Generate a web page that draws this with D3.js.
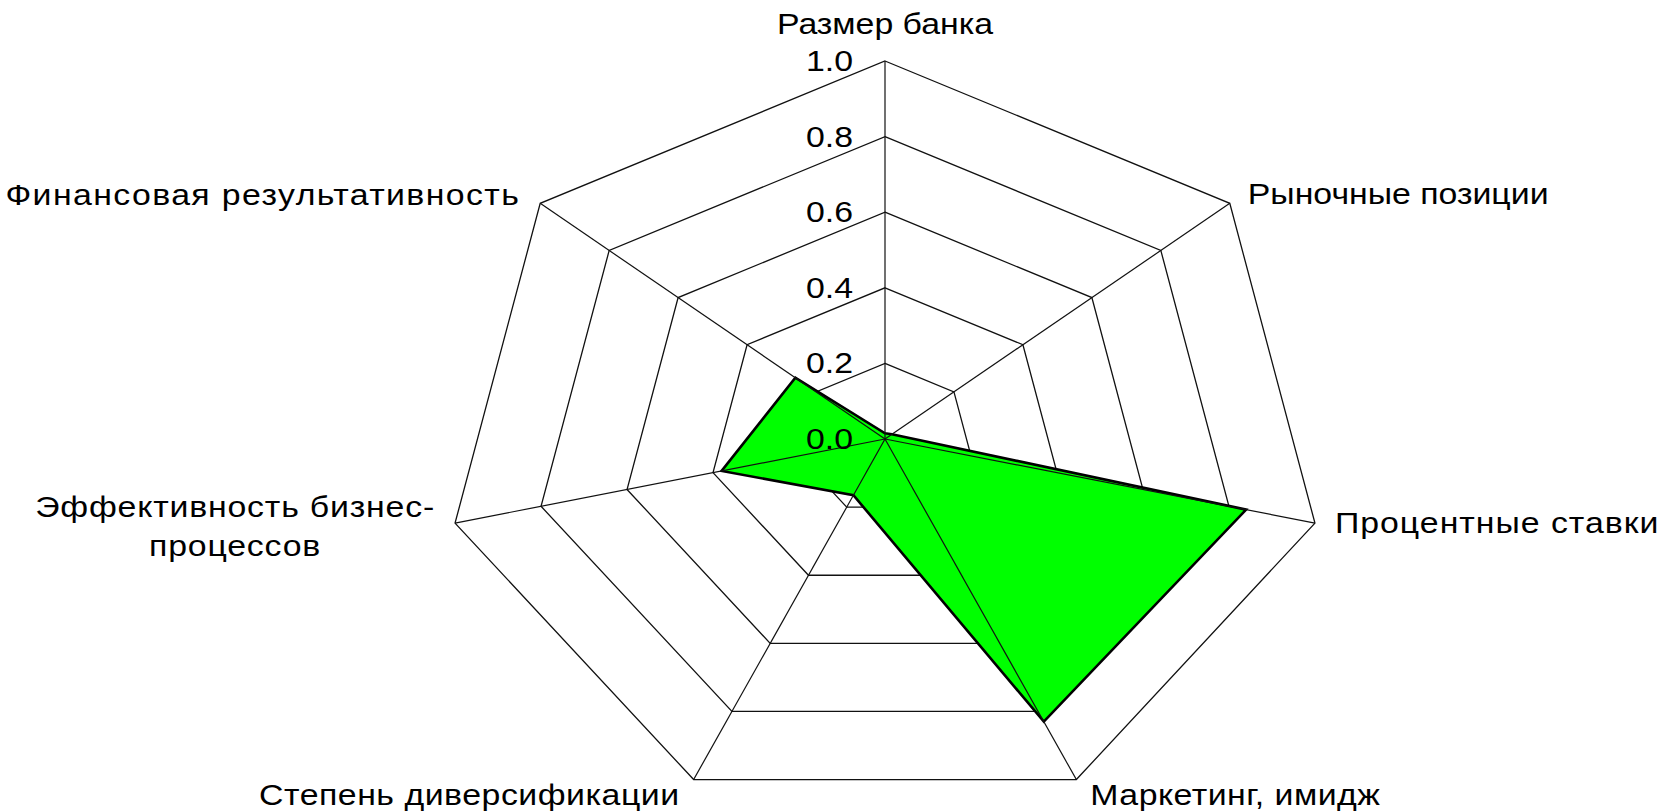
<!DOCTYPE html>
<html>
<head>
<meta charset="utf-8">
<script src="https://cdn.jsdelivr.net/npm/d3@7"></script>
<style>
  html, body { margin: 0; padding: 0; background: #fff; }
  svg { display: block; }
  text { font-family: "Liberation Sans", Arial, sans-serif; fill: #000; }
</style>
</head>
<body>
<svg id="chart" width="1672" height="811"></svg>
<script>
// ---- data ----
const axisLabels = [
  ["Размер банка"],
  ["Рыночные позиции"],
  ["Процентные ставки"],
  ["Маркетинг, имидж"],
  ["Степень диверсификации"],
  ["Эффективность бизнес-", "процессов"],
  ["Финансовая результативность"]
];
const values = [0.015, 0.02, 0.84, 0.83, 0.165, 0.38, 0.26];
const tickValues = [0.0, 0.2, 0.4, 0.6, 0.8, 1.0];
const tickLabels = ["0.0", "0.2", "0.4", "0.6", "0.8", "1.0"];

// ---- layout ----
const W = 1672, H = 811;
const cx = 885, cy = 439;
const Ry = 378, Rx = 441;
const kx = Rx / Ry;                 // horizontal stretch of the whole picture
const fontSize = 29;

// label placement relative to the outer vertex (screen pixels)
const labelLayout = [
  {anchor: "middle", dx: 0,    dy: -27, ls: 0},
  {anchor: "start",  dx: 18,   dy: 1,   ls: 0},
  {anchor: "start",  dx: 20,   dy: 10,  ls: 0.85},
  {anchor: "start",  dx: 14,   dy: 25,  ls: 0.4},
  {anchor: "end",    dx: -14,  dy: 25,  ls: 0.45},
  {anchor: "middle", dx: -220, dy: -6,  ls: 0.7},
  {anchor: "end",    dx: -20,  dy: 2,   ls: 1.2}
];

const n = axisLabels.length;
const r = d3.scaleLinear().domain([0, 1]).range([0, Ry]);
const angle = i => i * 2 * Math.PI / n;
// point in screen coords
const pt = (i, v) => [cx + kx * r(v) * Math.sin(angle(i)), cy - r(v) * Math.cos(angle(i))];

const svg = d3.select("#chart");
svg.append("rect").attr("width", W).attr("height", H).attr("fill", "#fff");

const line = d3.line();

// grid rings
svg.append("g").selectAll("path")
  .data(tickValues.filter(t => t > 0))
  .join("path")
  .attr("d", t => line(d3.range(n).map(i => pt(i, t))) + "Z")
  .attr("fill", "none")
  .attr("stroke", "#111")
  .attr("stroke-width", 1.3);

// data polygon
svg.append("path")
  .attr("d", line(values.map((v, i) => pt(i, v))) + "Z")
  .attr("fill", "#00ff00")
  .attr("stroke", "#000")
  .attr("stroke-width", 2.6)
  .attr("stroke-linejoin", "miter");

// spokes (drawn on top)
svg.append("g").selectAll("line")
  .data(d3.range(n))
  .join("line")
  .attr("x1", cx).attr("y1", cy)
  .attr("x2", i => pt(i, 1)[0])
  .attr("y2", i => pt(i, 1)[1])
  .attr("stroke", "#111")
  .attr("stroke-width", 1.2);

// tick labels along the top axis
svg.append("g").selectAll("text")
  .data(tickValues)
  .join("text")
  .attr("transform", (t) => `translate(${cx - 32},${cy - r(t) + 10}) scale(${kx},1)`)
  .attr("text-anchor", "end")
  .attr("font-size", fontSize)
  .text((t, i) => tickLabels[i]);

// axis labels
const lab = svg.append("g");
axisLabels.forEach((lines, i) => {
  const [vx, vy] = pt(i, 1);
  const L = labelLayout[i];
  const t = lab.append("text")
    .attr("transform", `translate(${vx + L.dx},${vy + L.dy}) scale(${kx},1)`)
    .attr("text-anchor", L.anchor)
    .attr("font-size", fontSize)
    .attr("letter-spacing", L.ls);
  lines.forEach((s, j) => {
    t.append("tspan").attr("x", 0).attr("dy", j === 0 ? 0 : 39).text(s);
  });
});
</script>
</body>
</html>
